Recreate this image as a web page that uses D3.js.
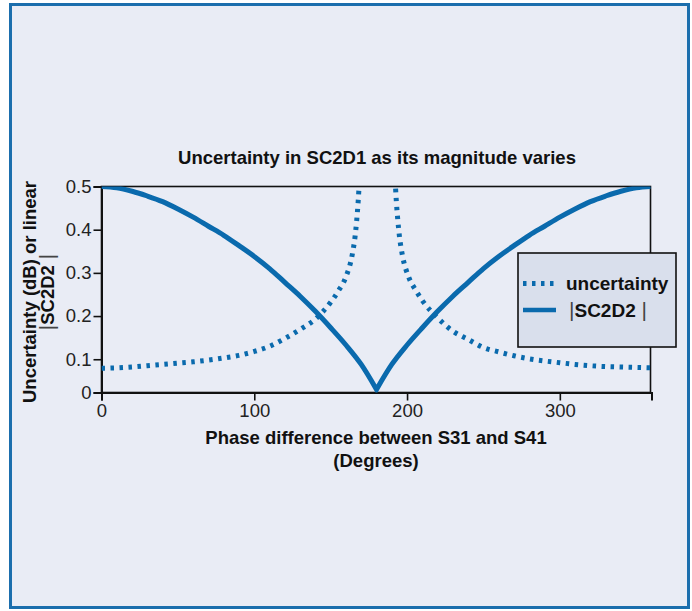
<!DOCTYPE html>
<html>
<head>
<meta charset="utf-8">
<script src="https://cdn.jsdelivr.net/npm/d3@7"></script>
<style>
  body { margin: 0; background: #ffffff; }
  text { font-family: "Liberation Sans", Arial, sans-serif; }
</style>
</head>
<body>
<div id="chart"></div>
<script>
// chart values
// |SC2D2| - falling half and rising half, meeting at the sharp minimum
var magLeftAngles = [0, 10, 20, 30, 40, 50, 60, 70, 80, 90, 100, 110, 120, 130, 140, 150, 160, 170, 180];
var magLeftValues = [0.500, 0.497, 0.489, 0.478, 0.465, 0.448, 0.429, 0.408, 0.387, 0.363, 0.338, 0.310, 0.278, 0.246, 0.211, 0.173, 0.133, 0.088, 0.030];
var magRightAngles = [180, 190, 200, 210, 220, 230, 240, 250, 260, 270, 280, 290, 300, 310, 320, 330, 340, 350, 360];
var magRightValues = [0.030, 0.088, 0.133, 0.173, 0.211, 0.246, 0.278, 0.310, 0.338, 0.363, 0.387, 0.408, 0.429, 0.448, 0.465, 0.478, 0.489, 0.497, 0.500];

// uncertainty (dB) - left branch and right branch, split at the asymptote
var uncLeftAngles = [0, 10, 20, 30, 40, 50, 60, 70, 80, 90, 100, 110, 120, 130, 140, 150, 155, 160, 164, 166, 167, 168, 169, 170];
var uncLeftValues = [0.079, 0.080, 0.082, 0.085, 0.088, 0.091, 0.094, 0.098, 0.103, 0.109, 0.118, 0.130, 0.148, 0.169, 0.193, 0.232, 0.258, 0.291, 0.340, 0.385, 0.420, 0.465, 0.530, 0.620];
var uncRightAngles = [191, 192, 193, 194, 195, 197, 201, 206, 210, 220, 230, 240, 250, 260, 270, 280, 290, 300, 310, 320, 330, 340, 350, 360];
var uncRightValues = [0.620, 0.530, 0.465, 0.420, 0.385, 0.340, 0.291, 0.258, 0.236, 0.196, 0.165, 0.146, 0.127, 0.117, 0.108, 0.101, 0.096, 0.092, 0.088, 0.085, 0.083, 0.082, 0.081, 0.080];

var xTicks = [0, 100, 200, 300];
var yFloor = 0.023;   // bottom of the value axis, labelled "0" in the original
var yTicks = [yFloor, 0.1, 0.2, 0.3, 0.4, 0.5];

var svgWidth = 692;
var svgHeight = 611;
var blue = "#0a6aad";

var svg = d3.select("#chart")
  .append("svg")
  .attr("width", svgWidth)
  .attr("height", svgHeight);

// outer panel
svg.append("rect")
  .attr("x", 10.5)
  .attr("y", 4.5)
  .attr("width", 678)
  .attr("height", 603)
  .attr("fill", "#e9ecf5")
  .attr("stroke", "#1b6ead")
  .attr("stroke-width", 3);

var plot = { left: 101.5, right: 650.5, top: 186.5, bottom: 392.5 };

var x = d3.scaleLinear().domain([0, 360]).range([plot.left, plot.right + 1]);
var y = d3.scaleLinear().domain([yFloor, 0.5]).range([plot.bottom, plot.top]);

svg.append("clipPath").attr("id", "clip")
  .append("rect")
  .attr("x", plot.left)
  .attr("y", plot.top)
  .attr("width", plot.right - plot.left)
  .attr("height", plot.bottom - plot.top);

// plot frame
svg.append("rect")
  .attr("x", plot.left)
  .attr("y", plot.top)
  .attr("width", plot.right - plot.left)
  .attr("height", plot.bottom - plot.top)
  .attr("fill", "none")
  .attr("stroke", "#111")
  .attr("stroke-width", 1.6);

// axes
var bottomAxis = d3.axisBottom(x).tickValues(xTicks).tickSizeOuter(0).tickSize(8).tickPadding(3);
var leftAxis = d3.axisLeft(y).tickValues(yTicks).tickSizeOuter(0).tickSize(8).tickPadding(2)
  .tickFormat(function(d) { return d === yFloor ? "0" : d3.format(".1f")(d); });

var gx = svg.append("g")
  .attr("transform", `translate(0, ${plot.bottom})`)
  .call(bottomAxis);
var gy = svg.append("g")
  .attr("transform", `translate(${plot.left}, 0)`)
  .call(leftAxis);

[gx, gy].forEach(function(g) {
  g.select(".domain").attr("stroke", "#111").attr("stroke-width", 2);
  g.selectAll(".tick line").attr("stroke", "#111").attr("stroke-width", 1.6);
  g.selectAll(".tick text")
    .attr("fill", "#222")
    .attr("font-size", "18.5px")
    .attr("font-family", "Liberation Sans, Arial, sans-serif");
});

// lines
var line = d3.line()
  .curve(d3.curveMonotoneX)
  .x(d => x(d[0]))
  .y(d => y(d[1]));

var curves = svg.append("g").attr("clip-path", "url(#clip)");

[[uncLeftAngles, uncLeftValues], [uncRightAngles, uncRightValues]].forEach(function(s) {
  curves.append("path")
    .attr("d", line(d3.zip(s[0], s[1])))
    .attr("fill", "none")
    .attr("stroke", blue)
    .attr("stroke-width", 5)
    .attr("stroke-dasharray", "3.5,5.5");
});

var magPts = d3.zip(magLeftAngles, magLeftValues);
var magPts2 = d3.zip(magRightAngles, magRightValues);
curves.append("path")
  .attr("d", line(magPts) + line(magPts2).replace(/^M/, "L"))
  .attr("fill", "none")
  .attr("stroke", blue)
  .attr("stroke-width", 5)
  .attr("stroke-linejoin", "miter")
  .attr("stroke-miterlimit", 10);

// title
svg.append("text")
  .attr("x", 377)
  .attr("y", 164)
  .attr("text-anchor", "middle")
  .attr("font-size", "18.5px")
  .attr("font-weight", "bold")
  .attr("fill", "#111")
  .text("Uncertainty in SC2D1 as its magnitude varies");

// x label
svg.append("text")
  .attr("x", 376)
  .attr("y", 444)
  .attr("text-anchor", "middle")
  .attr("font-size", "18.5px")
  .attr("font-weight", "bold")
  .attr("fill", "#111")
  .text("Phase difference between S31 and S41");
svg.append("text")
  .attr("x", 376)
  .attr("y", 467)
  .attr("text-anchor", "middle")
  .attr("font-size", "18.5px")
  .attr("font-weight", "bold")
  .attr("fill", "#111")
  .text("(Degrees)");

// helper for |SC2D2| with thin bars
function barLabel(t) {
  t.append("tspan").attr("font-weight", "normal").attr("font-size", "21px").attr("fill", "#444").text("|");
  t.append("tspan").text("SC2D2");
  t.append("tspan").attr("font-weight", "normal").attr("font-size", "21px").attr("fill", "#444").text(" |");
}

// y label
var yl = svg.append("g")
  .attr("transform", "translate(36, 292) rotate(-90)");
yl.append("text")
  .attr("text-anchor", "middle")
  .attr("font-size", "18.5px")
  .attr("font-weight", "bold")
  .attr("fill", "#111")
  .text("Uncertainty (dB) or linear");
yl.append("text")
  .attr("y", 18)
  .attr("text-anchor", "middle")
  .attr("font-size", "18.5px")
  .attr("font-weight", "bold")
  .attr("fill", "#111")
  .call(barLabel);

// legend
var lg = svg.append("g").attr("transform", "translate(518, 253)");
lg.append("rect")
  .attr("width", 158)
  .attr("height", 94)
  .attr("fill", "#d9dfec")
  .attr("stroke", "#111")
  .attr("stroke-width", 1.6);
lg.append("line")
  .attr("x1", 5).attr("x2", 39).attr("y1", 30.5).attr("y2", 30.5)
  .attr("stroke", blue).attr("stroke-width", 5)
  .attr("stroke-dasharray", "3.5,5.5");
lg.append("text")
  .attr("x", 48).attr("y", 37)
  .attr("font-size", "19px").attr("font-weight", "bold").attr("fill", "#111")
  .text("uncertainty");
lg.append("line")
  .attr("x1", 5).attr("x2", 38).attr("y1", 57).attr("y2", 57)
  .attr("stroke", blue).attr("stroke-width", 4.5);
lg.append("text")
  .attr("x", 51).attr("y", 63.5)
  .attr("font-size", "19px").attr("font-weight", "bold").attr("fill", "#111")
  .call(barLabel);
</script>
</body>
</html>
